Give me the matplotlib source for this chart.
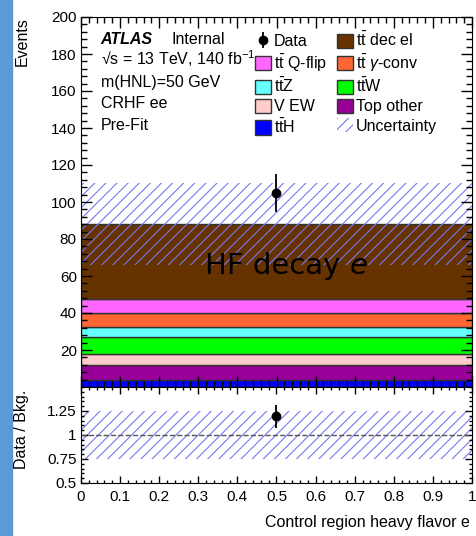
import numpy as np
import matplotlib as mpl
mpl.use('Agg')
import matplotlib.pyplot as plt
import matplotlib.patches as patches
from matplotlib.ticker import MultipleLocator

mpl.rc('font', family='Liberation Sans')
mpl.rcParams['mathtext.fontset'] = 'custom'
mpl.rcParams['mathtext.rm'] = 'Liberation Sans'
mpl.rcParams['mathtext.it'] = 'Liberation Sans:italic'
mpl.rcParams['mathtext.bf'] = 'Liberation Sans:bold'
mpl.rcParams['hatch.linewidth'] = 0.8

TT = r'\mathrm{t}\bar{\mathrm{t}}'

# ---- data (single bin, bottom -> top of stack) ----
samples = ['$' + TT + r'\mathrm{H}$', 'Top other', 'V EW', '$' + TT + r'\mathrm{W}$',
           '$' + TT + r'\mathrm{Z}$', '$' + TT + r'$ $\gamma$-conv', '$' + TT + '$ Q-flip',
           '$' + TT + '$ dec el']
yields = [3.8, 7.9, 6.3, 8.9, 5.4, 7.5, 7.6, 40.6]
colors = ['#0000ff', '#990099', '#ffcccc', '#00ff00', '#66ffff',
          '#ff6633', '#ff66ff', '#663300']
bin_center = [0.5]
bin_width = 1.0
data = [105.0]
data_err = [10.25]
unc_frac = 0.25

hcol = '#7777ee'

fig = plt.figure(figsize=(4.77, 5.36), dpi=100)
fig.patches.append(patches.Rectangle((0, 0), 12/477., 1, transform=fig.transFigure,
                                     color='#5b9bd5', zorder=-1))

ax = fig.add_axes([81/477., 1-387/536., 391/477., 370/536.])
rx = fig.add_axes([81/477., 1-483/536., 391/477., 96/536.])

# stack
bottom = 0.
bars = []
for name, val, c in zip(samples, yields, colors):
    b = ax.bar(bin_center, [val], width=bin_width, bottom=bottom, color=c,
               edgecolor='#333333', linewidth=1.0, label=name)
    bars.append(b)
    bottom += val
total = bottom
unc = ax.bar(bin_center, [2*unc_frac*total], width=bin_width, bottom=total*(1-unc_frac),
             fill=False, hatch='///', edgecolor=hcol, linewidth=0, label='Uncertainty')
dat = ax.errorbar(bin_center, data, yerr=data_err, fmt='o', color='black',
                  markersize=6, elinewidth=1.3, capsize=0, label='Data', zorder=5)

ax.set_xlim(0, 1)
ax.set_ylim(0, 200)
ax.yaxis.set_minor_locator(MultipleLocator(4))
ax.xaxis.set_major_locator(MultipleLocator(0.1))
ax.xaxis.set_minor_locator(MultipleLocator(0.02))
ax.set_yticks(np.arange(0, 201, 20))
ax.set_yticklabels([''] + [str(v) for v in range(20, 201, 20)])
ax.tick_params(which='both', direction='in', top=True, right=True, labelsize=11, pad=3)
ax.tick_params(which='major', length=8, width=1)
ax.tick_params(which='minor', length=4, width=1)
ax.tick_params(axis='x', labelbottom=False)

# labels
ax.text(0.05, 0.927, 'ATLAS', transform=ax.transAxes, fontsize=11.5,
        fontweight='bold', style='italic')
ax.text(0.231, 0.927, 'Internal', transform=ax.transAxes, fontsize=11.5)
info = ['\u221as = 13 TeV, 140 fb$^{-1}$', 'm(HNL)=50 GeV', 'CRHF ee', 'Pre-Fit']
for i, t in enumerate(info):
    ax.text(0.05, 0.927 - 0.0578*(i+1), t, transform=ax.transAxes, fontsize=11.5)

t1 = ax.text(0.316, 61, 'HF decay ', ha='left', va='baseline',
             fontsize=21, family='DejaVu Sans', zorder=6)
ax.annotate('e', xy=(1, 0), xycoords=t1, ha='left', va='bottom', fontsize=21,
            family='DejaVu Sans', style='oblique', zorder=6)

handles = [dat, bars[6], bars[4], bars[2], bars[0],
           bars[7], bars[5], bars[3], bars[1], unc]
labels = ['Data', samples[6], samples[4], samples[2], samples[0],
          samples[7], samples[5], samples[3], samples[1], 'Uncertainty']
ax.legend(handles, labels, loc='upper left', bbox_to_anchor=(0.445, 0.962), ncol=2,
          frameon=False, fontsize=11.5, handlelength=1.0, handleheight=1.0,
          handletextpad=0.2, columnspacing=0.6, labelspacing=0.22,
          borderpad=0, borderaxespad=0)

# ratio
rx.bar(bin_center, [2*unc_frac], width=bin_width, bottom=1-unc_frac, fill=False,
       hatch='///', edgecolor=hcol, linewidth=0)
rx.axhline(1, color='#555555', linestyle='--', linewidth=1)
rx.errorbar(bin_center, [d/total for d in data], yerr=[e/total for e in data_err],
            fmt='o', color='black', markersize=6, elinewidth=1.3, capsize=0, zorder=5)
rx.set_xlim(0, 1)
rx.set_ylim(0.5, 1.5)
rx.set_yticks([0.5, 0.75, 1.0, 1.25])
rx.set_yticklabels(['0.5', '0.75', '1', '1.25'])
rx.yaxis.set_minor_locator(MultipleLocator(0.05))
rx.set_xticks(np.arange(0, 1.01, 0.1))
rx.set_xticklabels(['0'] + ['%.1f' % v for v in np.arange(0.1, 0.95, 0.1)] + ['1'])
rx.xaxis.set_minor_locator(MultipleLocator(0.02))
rx.tick_params(which='both', direction='in', top=True, right=True, labelsize=11)
rx.tick_params(axis='y', pad=3)
rx.tick_params(axis='x', pad=5)
rx.tick_params(which='major', length=5, width=1)
rx.tick_params(which='minor', length=2.5, width=1)

fig.text(470/477., 1-522/536., 'Control region heavy flavor e', ha='right', va='center',
         fontsize=11.5)
fig.text(22/477., 1-17/536., 'Events', rotation=90, ha='center', va='top', fontsize=11.5)
fig.text(22/477., 1-390/536., 'Data / Bkg.', rotation=90, ha='center', va='top', fontsize=11.5)

fig.savefig('out.png', dpi=100)
